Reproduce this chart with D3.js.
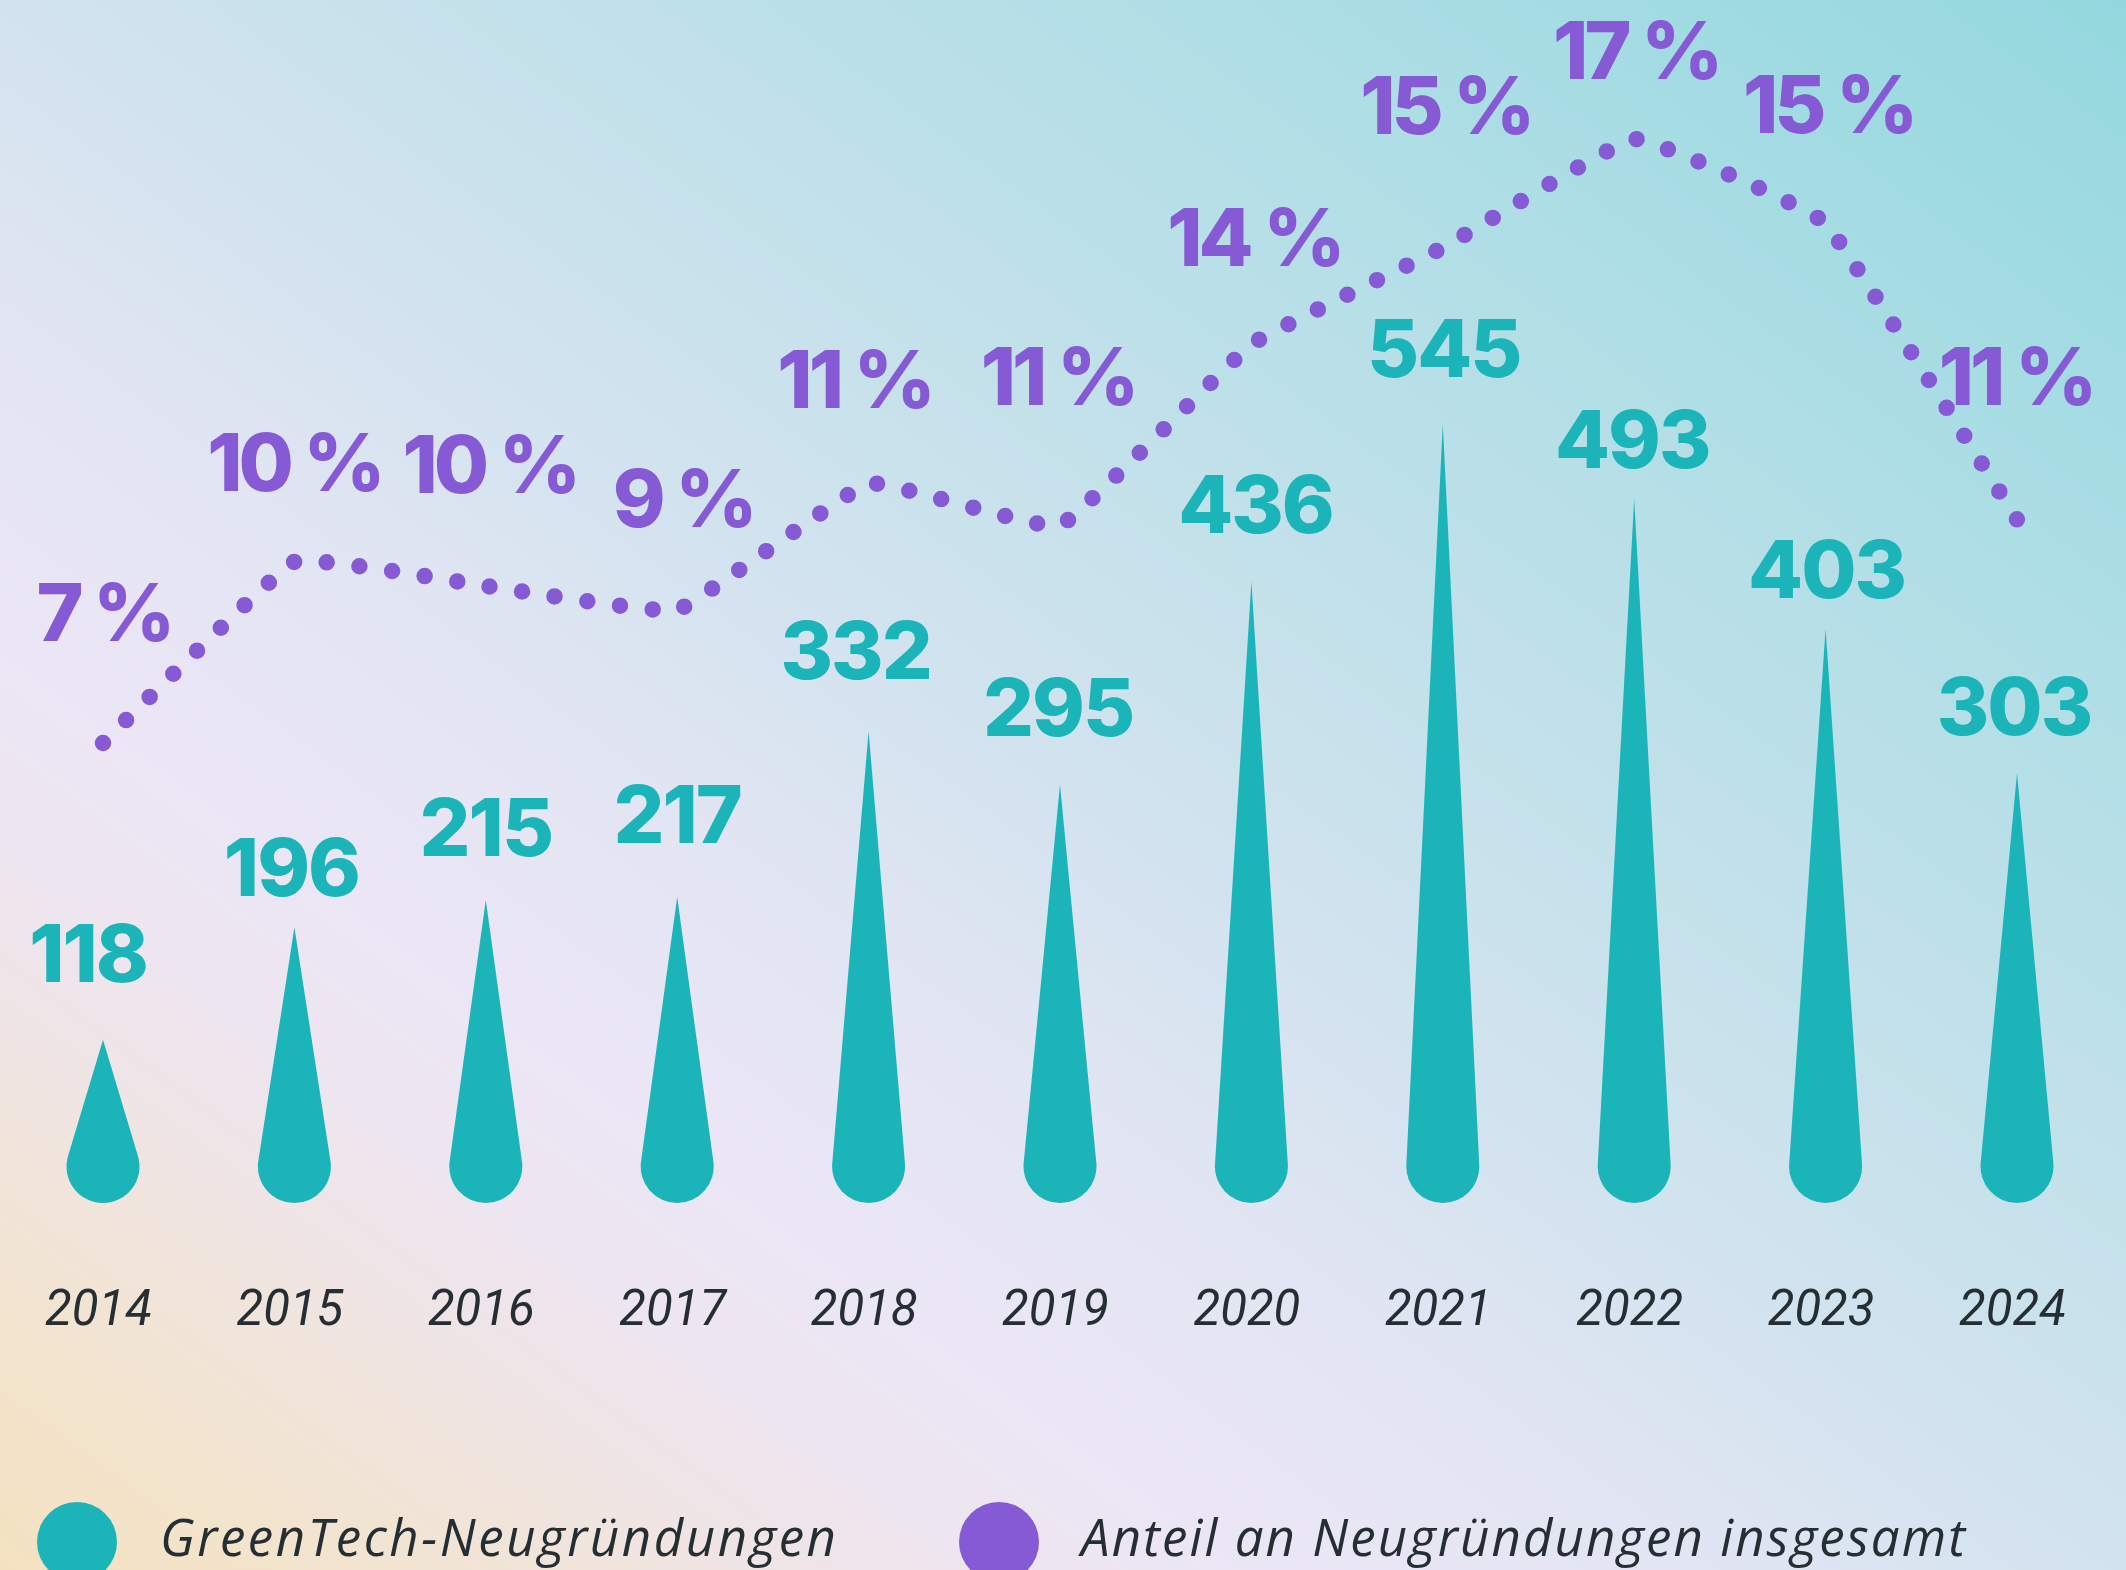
<!DOCTYPE html>
<html>
<head>
<meta charset="utf-8">
<script src="https://cdn.jsdelivr.net/npm/d3@7"></script>
<style>
  html, body { margin: 0; padding: 0; overflow: hidden; }
  svg { display: block; }
</style>
</head>
<body>
<script>
// ---------- DATA ----------
const years = ["2014","2015","2016","2017","2018","2019","2020","2021","2022","2023","2024"];
const startups = [118, 196, 215, 217, 332, 295, 436, 545, 493, 403, 303];          // GreenTech-Neugründungen
const shareLabels = [7, 10, 10, 9, 11, 11, 14, 15, 17, 15, 11];                     // Anteil (label, %)
const shareLine = [7.0, 10.0, 9.6, 9.2, 11.3, 10.6, 13.6, 15.2, 17.0, 15.6, 10.7];  // Anteil (line as drawn, %)
const legendLabels = ["GreenTech-Neugründungen", "Anteil an Neugründungen insgesamt"];

// ---------- LAYOUT ----------
const W = 2126, H = 1570;
const teal = "#1bb5b9", purple = "#8659d5", dark = "#252f33";
const valueLift = [87, 60, 73, 83, 81, 77, 77, 76, 60, 60, 67];          // label centre above drop tip
const valueDx   = [-15, -3, 0, 0, -13, -2, 4, 1, -2, 1, -3];
const shareLift = [131, 100, 122, 112, 104, 149, 107, 143, 89, 119, 143]; // label centre above line point
const shareDx   = [1, 0, 4, 6, -14, -2, 3, 3, 2, 3, -1];

const svg = d3.select("body").append("svg").attr("width", W).attr("height", H);
const defs = svg.append("defs");

const bg = defs.append("linearGradient").attr("id", "bg")
  .attr("x1", 0).attr("y1", 1).attr("x2", 1).attr("y2", 0);
[[0, "#f4e2bf"], [0.1, "#f2e4d3"], [0.22, "#eee5ee"], [0.3, "#ebe6f6"], [0.4, "#e2e5f3"],
 [0.5, "#d2e3ef"], [0.62, "#c3e1ea"], [0.78, "#b0dee6"], [1, "#93d8de"]]
  .forEach(([o, c]) => bg.append("stop").attr("offset", o).attr("stop-color", c));
svg.append("rect").attr("width", W).attr("height", H).attr("fill", "url(#bg)");

// ---------- SCALES ----------
const x = d3.scalePoint().domain(years).range([103, 2017]);
const yDrop = d3.scaleLinear().domain([0, 545]).range([1210, 424]);
const yShare = d3.scaleLinear().domain([7, 17]).range([743, 139]);

// ---------- DROPS ----------
const r = 36.5, cy = 1166.5;
function dropPath(cx, tipY) {
  const d = cy - tipY;
  const s = r / d;
  const tx = r * Math.sqrt(1 - s * s), ty = cy - r * s;
  return `M${cx},${tipY}L${cx + tx},${ty}A${r},${r} 0 1 1 ${cx - tx},${ty}Z`;
}
svg.append("g").selectAll("path").data(startups).join("path")
  .attr("d", (v, i) => dropPath(x(years[i]), yDrop(v)))
  .attr("fill", teal);

// ---------- SHARE LINE (dotted) ----------
const line = d3.line().x((v, i) => x(years[i])).y(v => yShare(v)).curve(d3.curveCardinal.tension(0.75));
const sharePath = svg.append("path").datum(shareLine)
  .attr("d", line)
  .attr("fill", "none")
  .attr("stroke", purple)
  .attr("stroke-width", 16.5)
  .attr("stroke-linecap", "round");
const L = sharePath.node().getTotalLength();
const nGaps = Math.round(L / 33);
const gap = (L - 0.5) / nGaps;
sharePath.attr("stroke-dasharray", `0 ${gap}`);

// ---------- LABELS ----------
const labelFont = "Inter, 'Noto Sans', sans-serif";
svg.append("g").selectAll("text").data(startups).join("text")
  .attr("x", (v, i) => x(years[i]) + valueDx[i])
  .attr("y", (v, i) => yDrop(v) - valueLift[i])
  .attr("dy", "0.36em")
  .attr("text-anchor", "middle")
  .attr("font-family", labelFont).attr("font-weight", 800).attr("font-size", 80)
  .attr("letter-spacing", -2)
  .attr("fill", teal)
  .text(v => v);

svg.append("g").selectAll("text").data(shareLabels).join("text")
  .attr("x", (v, i) => x(years[i]) + shareDx[i])
  .attr("y", (v, i) => yShare(shareLine[i]) - shareLift[i])
  .attr("dy", "0.36em")
  .attr("text-anchor", "middle")
  .attr("font-family", labelFont).attr("font-weight", 800).attr("font-size", 80)
  .attr("letter-spacing", -4)
  .attr("fill", purple)
  .text(v => v + " %");

// ---------- YEAR AXIS ----------
const axis = d3.axisBottom(x).tickSize(0).tickPadding(0);
const gAxis = svg.append("g").attr("transform", "translate(-5,1290)").call(axis);
gAxis.select(".domain").remove();
gAxis.selectAll("text")
  .attr("dy", "0.72em")
  .attr("font-family", "Roboto, sans-serif").attr("font-style", "italic").attr("font-weight", 400)
  .attr("font-size", 49).attr("fill", dark);

// ---------- LEGEND ----------
const legend = [
  { label: legendLabels[0], color: teal, cx: 77, tx: 160, len: 676 },
  { label: legendLabels[1], color: purple, cx: 999, tx: 1081, len: 884 }
];
const lg = svg.append("g");
lg.selectAll("circle").data(legend).join("circle")
  .attr("cx", d => d.cx).attr("cy", 1542).attr("r", 40).attr("fill", d => d.color);
lg.selectAll("text").data(legend).join("text")
  .attr("x", d => d.tx).attr("y", 1556)
  .attr("font-family", "'Open Sans', sans-serif").attr("font-style", "italic").attr("font-weight", 400)
  .attr("font-size", 51).attr("fill", dark)
  .attr("textLength", d => d.len).attr("lengthAdjust", "spacing")
  .text(d => d.label);
</script>
</body>
</html>
